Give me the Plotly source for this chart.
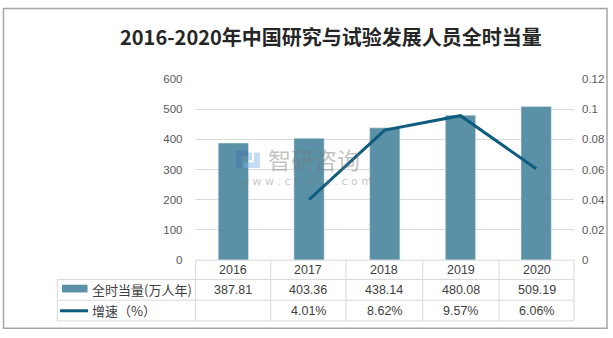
import plotly.graph_objects as go

# Data
years = ["2016", "2017", "2018", "2019", "2020"]
fte = [387.81, 403.36, 438.14, 480.08, 509.19]          # 万人年
growth = [None, 0.0401, 0.0862, 0.0957, 0.0606]          # 增速
fte_labels = ["387.81", "403.36", "438.14", "480.08", "509.19"]
growth_labels = ["", "4.01%", "8.62%", "9.57%", "6.06%"]
left_ticks = [0, 100, 200, 300, 400, 500, 600]
right_ticks = [0, 0.02, 0.04, 0.06, 0.08, 0.1, 0.12]
right_tick_text = ["0", "0.02", "0.04", "0.06", "0.08", "0.1", "0.12"]

W, H = 613, 338
BAR_COLOR = "#5B91A7"
LINE_COLOR = "#0E5C7E"
GRID = "#D9D9D9"
TEXT = "#404040"
TICK = "#595959"

# plot area in pixels
px0, px1 = 195.5, 574.0
py_top, py_bot = 75.7, 263.5


def fx(x):
    return x / W


def fy(y):
    return 1 - y / H


fig = go.Figure()
fig.add_trace(go.Bar(x=years, y=fte, marker_color=BAR_COLOR, width=0.4,
                     showlegend=False, hoverinfo="skip"))
fig.add_trace(go.Scatter(x=years, y=growth, mode="lines", yaxis="y2",
                         line=dict(color=LINE_COLOR, width=3),
                         showlegend=False, hoverinfo="skip"))

tickfont = dict(family="Liberation Sans, Arial, sans-serif", size=11.5, color=TICK)
fig.update_layout(
    width=W, height=H,
    margin=dict(l=0, r=0, t=0, b=0),
    paper_bgcolor="white", plot_bgcolor="white",
    xaxis=dict(domain=[fx(px0), fx(px1)], range=[-0.5, 4.5], showticklabels=False,
               showgrid=False, zeroline=False, showline=False, ticks=""),
    yaxis=dict(domain=[fy(py_bot), fy(py_top)], range=[0, 600], tickvals=left_ticks,
               showgrid=True, gridcolor=GRID, gridwidth=1, zeroline=False,
               showline=False, ticks="", tickfont=tickfont, ticklabelstandoff=12),
    yaxis2=dict(domain=[fy(py_bot), fy(py_top)], range=[0, 0.12], overlaying="y",
                side="right", tickvals=right_ticks, ticktext=right_tick_text,
                showgrid=False, zeroline=False, showline=False, ticks="",
                tickfont=tickfont, ticklabelstandoff=7),
)

shapes = []
annotations = []


def hline(y, x0, x1, color=GRID, w=1):
    shapes.append(dict(type="line", xref="paper", yref="paper",
                       x0=fx(x0), x1=fx(x1), y0=fy(y), y1=fy(y),
                       line=dict(color=color, width=w)))


def vline(x, y0, y1, color=GRID, w=1):
    shapes.append(dict(type="line", xref="paper", yref="paper",
                       x0=fx(x), x1=fx(x), y0=fy(y0), y1=fy(y1),
                       line=dict(color=color, width=w)))


# data table under the chart
cols = [195.5, 270.7, 346.0, 422.7, 499.0, 574.0]
rows = [263.5, 283.5, 305.0, 326.5]
tab_left = 57.3
hline(rows[0], cols[0], cols[-1])
hline(rows[1], tab_left, cols[-1])
hline(rows[2], tab_left, cols[-1])
hline(rows[3], tab_left, cols[-1])
vline(tab_left, rows[1], rows[3])
for c in cols:
    vline(c, rows[0], rows[3])

cell_font = dict(family="Liberation Sans, Arial, sans-serif", size=12.5, color=TEXT)
for i, yr in enumerate(years):
    cx = (cols[i] + cols[i + 1]) / 2
    for r, txt in enumerate([yr, fte_labels[i], growth_labels[i]]):
        if not txt:
            continue
        cy = (rows[r] + rows[r + 1]) / 2
        annotations.append(dict(xref="paper", yref="paper", x=fx(cx), y=fy(cy),
                                text=txt, showarrow=False, font=cell_font,
                                xanchor="center", yanchor="middle"))

# legend column of the table
shapes.append(dict(type="rect", xref="paper", yref="paper",
                   x0=fx(62), x1=fx(87.5), y0=fy(297), y1=fy(289),
                   fillcolor=BAR_COLOR, line=dict(width=0)))
shapes.append(dict(type="line", xref="paper", yref="paper",
                   x0=fx(60), x1=fx(88), y0=fy(316), y1=fy(316),
                   line=dict(color=LINE_COLOR, width=3)))
legend_font = dict(family="Noto Sans CJK SC, sans-serif", size=13, color=TEXT)
annotations.append(dict(xref="paper", yref="paper", x=fx(90), y=fy(293.5),
                        text="全时当量(万人年)", showarrow=False, font=legend_font,
                        xanchor="left", yanchor="middle"))
annotations.append(dict(xref="paper", yref="paper", x=fx(90), y=fy(315.5),
                        text="增速（%）", showarrow=False, font=legend_font,
                        xanchor="left", yanchor="middle"))

# title
annotations.append(dict(xref="paper", yref="paper", x=fx(331), y=fy(32),
                        text="<b>2016-2020年中国研究与试验发展人员全时当量</b>",
                        showarrow=False,
                        font=dict(family="Noto Sans CJK SC, sans-serif", size=20,
                                  color="#262626"),
                        xanchor="center", yanchor="middle"))

# watermark
wm = "rgba(120,120,120,0.45)"
annotations.append(dict(xref="paper", yref="paper", x=fx(266), y=fy(159),
                        text="智研咨询", showarrow=False,
                        font=dict(family="Noto Sans CJK SC, sans-serif", size=23, color=wm),
                        xanchor="left", yanchor="middle"))
annotations.append(dict(xref="paper", yref="paper", x=fx(306), y=fy(182),
                        text="w w w . c h y x x . c o m", showarrow=False,
                        font=dict(family="DejaVu Sans, sans-serif", size=11, color=wm),
                        xanchor="center", yanchor="middle"))
for (x0, y0, x1, y1, col) in [(236, 150, 248, 156, "rgba(70,110,170,0.45)"),
                              (236, 156, 242, 168, "rgba(70,110,170,0.45)"),
                              (248, 152, 252, 160, "rgba(120,180,230,0.45)"),
                              (244, 162, 260, 168, "rgba(120,180,230,0.45)"),
                              (254, 152, 260, 162, "rgba(120,180,230,0.45)")]:
    shapes.append(dict(type="rect", xref="paper", yref="paper",
                       x0=fx(x0), x1=fx(x1), y0=fy(y1), y1=fy(y0),
                       fillcolor=col, line=dict(width=0)))

# outer frame
shapes.append(dict(type="rect", xref="paper", yref="paper",
                   x0=fx(3.5), x1=fx(607), y0=fy(334), y1=fy(2.5),
                   line=dict(color="#A6A6A6", width=1.5), fillcolor="rgba(0,0,0,0)"))

fig.update_layout(shapes=shapes, annotations=annotations)
fig.write_html("out.html")
